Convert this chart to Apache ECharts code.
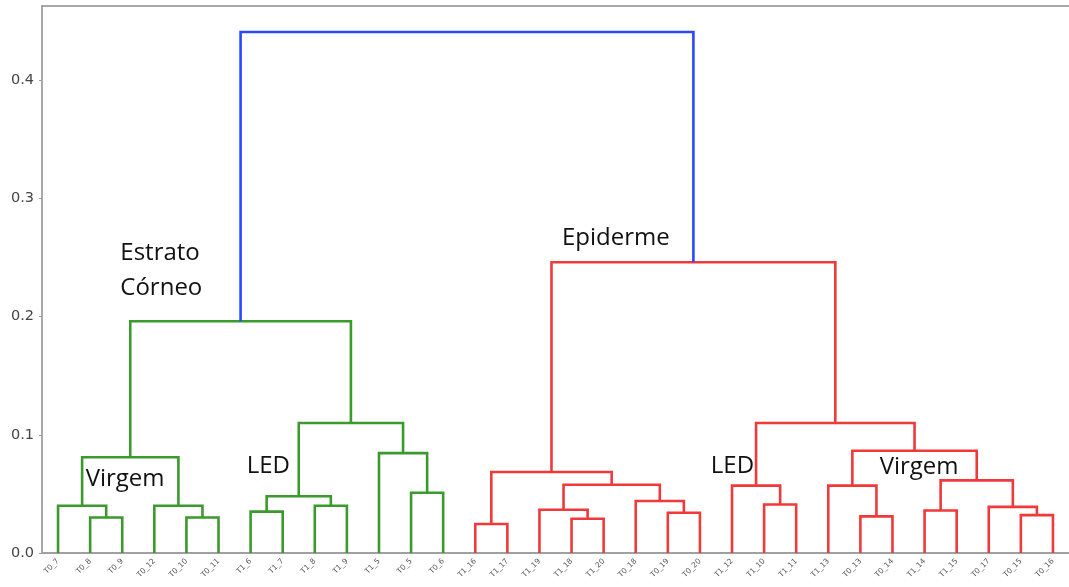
<!DOCTYPE html>
<html>
<head>
<meta charset="utf-8">
<title>Dendrograma</title>
<script src="https://cdn.jsdelivr.net/npm/echarts@6/dist/echarts.min.js"></script>
<style>
  html, body { margin: 0; padding: 0; background: #fff; }
  #chart { width: 1069px; height: 587px; }
</style>
</head>
<body>
<div id="chart"></div>
<script>
// Leaf labels, in dendrogram order (left to right)
const leafLabels = [
  'T0_7', 'T0_8', 'T0_9', 'T0_12', 'T0_10', 'T0_11',
  'T1_6', 'T1_7', 'T1_8', 'T1_9', 'T1_5', 'T0_5', 'T0_6',
  'T1_16', 'T1_17', 'T1_19', 'T1_18', 'T1_20', 'T0_18', 'T0_19', 'T0_20',
  'T1_12', 'T1_10', 'T1_11', 'T1_13', 'T0_13', 'T0_14',
  'T1_14', 'T1_15', 'T0_17', 'T0_15', 'T0_16'
];

// Linkage: [left child, right child, distance]
// children 0..31 are leaves, 32+k refers to link k
const links = [
  [1, 2, 0.030],    // 32
  [0, 32, 0.040],   // 33
  [4, 5, 0.030],    // 34
  [3, 34, 0.040],   // 35
  [33, 35, 0.081],  // 36
  [6, 7, 0.035],    // 37
  [8, 9, 0.040],    // 38
  [37, 38, 0.048],  // 39
  [11, 12, 0.051],  // 40
  [10, 40, 0.0845], // 41
  [39, 41, 0.110],  // 42
  [36, 42, 0.196],  // 43
  [13, 14, 0.0245], // 44
  [16, 17, 0.029],  // 45
  [15, 45, 0.0366], // 46
  [19, 20, 0.034],  // 47
  [18, 47, 0.044],  // 48
  [46, 48, 0.0577], // 49
  [44, 49, 0.0685], // 50
  [22, 23, 0.041],  // 51
  [21, 51, 0.057],  // 52
  [25, 26, 0.031],  // 53
  [24, 53, 0.057],  // 54
  [27, 28, 0.036],  // 55
  [30, 31, 0.032],  // 56
  [29, 56, 0.039],  // 57
  [55, 57, 0.0614], // 58
  [54, 58, 0.0865], // 59
  [52, 59, 0.110],  // 60
  [50, 60, 0.246],  // 61
  [43, 61, 0.4407]  // 62
];

// Cluster of each link
const linkCluster = [
  'g','g','g','g','g','g','g','g','g','g','g','g',
  'r','r','r','r','r','r','r','r','r','r','r','r','r','r','r','r','r','r',
  'b'
];

const clusterColors = { g: '#3a9a2c', r: '#f0393a', b: '#2a48ff' };

// Group annotations: [text, x (leaf units), distance, vertical anchor]
const annotations = [
  ['Estrato\nCórneo', 24.4, 0.2685, 'top'],
  ['Epiderme', 162.0, 0.2665, 'middle'],
  ['Virgem', 13.6, 0.0628, 'middle'],
  ['LED', 63.8, 0.0738, 'middle'],
  ['LED', 208.4, 0.0738, 'middle'],
  ['Virgem', 261.0, 0.073, 'middle']
];

const yTicks = { min: 0, max: 0.4627, step: 0.1 };

// Node positions in leaf units: leaf i sits at 10*i + 5, a link at its children's midpoint
const nLeaves = leafLabels.length;
const nodeX = [];
const nodeH = [];
for (let i = 0; i < nLeaves; i++) { nodeX.push(10 * i + 5); nodeH.push(0); }
links.forEach(function (l) {
  nodeX.push((nodeX[l[0]] + nodeX[l[1]]) / 2);
  nodeH.push(l[2]);
});

function linkData(cluster) {
  const out = [];
  links.forEach(function (l, k) {
    if (linkCluster[k] !== cluster) return;
    out.push([nodeX[l[0]], nodeH[l[0]], nodeX[l[1]], nodeH[l[1]], l[2]]);
  });
  return out;
}

function renderLink(params, api) {
  const p1 = api.coord([api.value(0), api.value(1)]);
  const p2 = api.coord([api.value(0), api.value(4)]);
  const p3 = api.coord([api.value(2), api.value(4)]);
  const p4 = api.coord([api.value(2), api.value(3)]);
  return {
    type: 'polyline',
    shape: { points: [p1, p2, p3, p4] },
    style: { stroke: api.visual('color'), fill: null, lineWidth: 2.6, lineJoin: 'miter' }
  };
}

function linkSeries(cluster) {
  return {
    type: 'custom',
    xAxisIndex: 1,
    yAxisIndex: 0,
    renderItem: renderLink,
    itemStyle: { color: clusterColors[cluster] },
    encode: { x: [0, 2], y: [1, 3, 4] },
    data: linkData(cluster),
    silent: true,
    clip: false,
    z: 2
  };
}

const chart = echarts.init(document.getElementById('chart'), null, { renderer: 'canvas' });

chart.setOption({
  animation: false,
  backgroundColor: '#ffffff',
  grid: { left: 42, top: 6, width: 1031, height: 547, containLabel: false },
  xAxis: [
    {
      type: 'category',
      data: leafLabels,
      position: 'bottom',
      boundaryGap: true,
      axisLine: { show: true, lineStyle: { color: '#a0a0a0', width: 2 } },
      axisTick: { show: false },
      axisLabel: {
        interval: 0,
        rotate: 45,
        fontSize: 7.5,
        color: '#555',
        margin: 7,
        fontFamily: 'DejaVu Sans'
      },
      splitLine: { show: false }
    },
    {
      type: 'value',
      min: 0,
      max: nLeaves * 10,
      position: 'top',
      axisLine: { show: true, onZero: false, lineStyle: { color: '#8c8c8c', width: 1.5 } },
      axisTick: { show: false },
      axisLabel: { show: false },
      splitLine: { show: false }
    }
  ],
  yAxis: [
    {
      type: 'value',
      min: yTicks.min,
      max: yTicks.max,
      interval: yTicks.step,
      axisLine: { show: true, lineStyle: { color: '#8c8c8c', width: 1.5 } },
      axisTick: { show: true, length: 3, lineStyle: { color: '#9a9a9a' } },
      axisLabel: {
        showMaxLabel: false,
        fontSize: 14.5,
        color: '#444',
        margin: 8,
        fontFamily: 'DejaVu Sans',
        formatter: function (v) { return v.toFixed(1); }
      },
      splitLine: { show: false }
    }
  ],
  series: [
    linkSeries('g'),
    linkSeries('r'),
    linkSeries('b'),
    {
      type: 'custom',
      xAxisIndex: 1,
      yAxisIndex: 0,
      silent: true,
      clip: false,
      z: 5,
      data: annotations.map(function (a) { return [a[1], a[2]]; }),
      renderItem: function (params, api) {
        const a = annotations[params.dataIndex];
        const p = api.coord([api.value(0), api.value(1)]);
        return {
          type: 'text',
          x: p[0],
          y: p[1],
          style: {
            text: a[0],
            fill: '#111',
            font: '24px "Open Sans"',
            lineHeight: 35,
            align: 'left',
            verticalAlign: a[3]
          }
        };
      }
    }
  ]
});
</script>
</body>
</html>
